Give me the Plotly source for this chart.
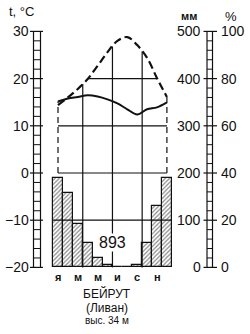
import numpy as np
import plotly.graph_objects as go

# ---- data ----
months = list(range(12))
month_labels = ["я", "", "м", "", "м", "", "и", "", "с", "", "н", ""]
temperature = [14.4, 16.0, 17.8, 19.9, 22.7, 25.6, 28.0, 28.8, 27.1, 24.4, 20.1, 16.1]   # °C
humidity = [70.3, 71.6, 72.2, 72.9, 72.4, 71.2, 69.5, 67.0, 64.8, 67.0, 67.8, 69.9]     # %
precip = [190, 158, 92, 52, 19, 5, 0, 1, 6, 51, 130, 189]                                # mm
temp_ticks = [30, 20, 10, 0, -10, -20]
mm_ticks = [500, 400, 300, 200, 100, 0]
pct_ticks = [100, 80, 60, 40, 20, 0]
annual_total = "893"
city = "БЕЙРУТ"
country = "(Ливан)"
altitude = "выс. 34 м"

# ---- geometry (pixel -> axis ranges) ----
W, H = 250, 334
px_per_month = 9.9
x0_px = 58
xr = [-x0_px / px_per_month, (W - x0_px) / px_per_month]
px_per_deg = 4.72
zero_px = 173
yr = [(zero_px - H) / px_per_deg, zero_px / px_per_deg]
yr_mm = [(v + 20) * 10 for v in yr]
yr_pct = [(v + 20) * 2 for v in yr]

FONT = "Liberation Sans, Arial, sans-serif"
BLACK = "#111111"

fig = go.Figure()

fig.add_trace(go.Bar(
    x=months, y=precip, width=1.0, yaxis="y2",
    marker=dict(color="white", line=dict(color=BLACK, width=1.2),
                pattern=dict(shape="/", fgcolor=BLACK, bgcolor="white", size=3, solidity=0.4)),
    hoverinfo="skip", showlegend=False))

fig.add_trace(go.Scatter(
    x=months, y=temperature, mode="lines", line=dict(color=BLACK, width=2.2, dash="8px,4px", shape="spline"),
    showlegend=False, hoverinfo="skip"))

fig.add_trace(go.Scatter(
    x=months, y=humidity, yaxis="y3", mode="lines", line=dict(color=BLACK, width=2, shape="spline"),
    showlegend=False, hoverinfo="skip"))

shapes = []
def line(x0, y0, x1, y1, xref="x", w=1.2, dash="solid"):
    shapes.append(dict(type="line", xref=xref, yref="y", x0=x0, y0=y0, x1=x1, y1=y1,
                       line=dict(color=BLACK, width=w, dash=dash), layer="above"))

t = np.array(temperature, dtype=float)
m = np.array(months, dtype=float)
# vertical grid lines up to the temperature curve
for xv in [2.5, 5.5, 8.5]:
    line(xv, -20, xv, float(np.interp(xv, m, t)))
# horizontal grid lines
imax = int(np.argmax(t))
xa = float(np.interp(20, t[:imax + 1], m[:imax + 1]))
xb = float(np.interp(20, t[imax:][::-1], m[imax:][::-1]))
line(xa, 20, xb, 20)
line(0, 10, 11, 10)
line(0, 0, 11, 0)
line(-0.5, -10, 11.5, -10)
# dashed side verticals
hum_T = [h / 2 - 20 for h in humidity]
line(0, 0, 0, max(t[0], hum_T[0]), dash="6px,4px")
line(11, 0, 11, max(t[-1], hum_T[-1]), dash="6px,4px")

# rulers
def ruler(xl, xr_, xmaj0, xmaj1):
    p = lambda v: v / W
    line(p(xl), -20, p(xl), 30, xref="paper", w=1.2)
    line(p(xr_), -20, p(xr_), 30, xref="paper", w=1.2)
    for v in range(-20, 31, 2):
        if v % 10 == 0:
            line(p(xmaj0), v, p(xmaj1), v, xref="paper", w=1.2)
        else:
            line(p(xl), v, p(xr_), v, xref="paper", w=1)
ruler(33.5, 40.5, 30, 43)
ruler(207, 212.5, 203.5, 217)

annotations = []
def text(x, y, s, size, xref="x", yref="y", xanchor="center", bg=None, bold=False):
    a = dict(x=x, y=y, xref=xref, yref=yref, text=("<b>%s</b>" % s) if bold else s, showarrow=False,
             xanchor=xanchor, yanchor="middle", font=dict(family=FONT, size=size, color=BLACK))
    if bg:
        a.update(bgcolor=bg, borderpad=0)
    annotations.append(a)

for v in temp_ticks:
    text(31 / W, v, "−%d" % -v if v < 0 else str(v), 14, xref="paper", xanchor="right")
for v in mm_ticks:
    text(203 / W, v, str(v), 14, xref="paper", yref="y2", xanchor="right")
for v in pct_ticks:
    text(219 / W, v, str(v), 14, xref="paper", yref="y3", xanchor="left")

text(7 / W, 1 - 12 / H, "t, °C", 13, xref="paper", yref="paper", xanchor="left")
text(189 / W, 1 - 16 / H, "мм", 11, xref="paper", yref="paper", bold=True)
text(231 / W, 1 - 16 / H, "%", 13, xref="paper", yref="paper")

for i, s in zip(months, month_labels):
    if s:
        text(i, (zero_px - 277) / px_per_deg, s, 11, bold=True)

text(5.5, (zero_px - 242) / px_per_deg, annual_total, 16, bg="white")
text(107 / W, 1 - 293 / H, city, 12, xref="paper", yref="paper")
text(107 / W, 1 - 308 / H, country, 12, xref="paper", yref="paper")
text(107 / W, 1 - 320 / H, altitude, 10, xref="paper", yref="paper")

ax_hidden = dict(showgrid=False, zeroline=False, showticklabels=False, ticks="", showline=False)
fig.update_layout(
    width=W, height=H, margin=dict(l=0, r=0, t=0, b=0),
    paper_bgcolor="white", plot_bgcolor="white",
    xaxis=dict(range=xr, domain=[0, 1], **ax_hidden),
    yaxis=dict(range=yr, domain=[0, 1], **ax_hidden),
    yaxis2=dict(range=yr_mm, overlaying="y", **ax_hidden),
    yaxis3=dict(range=yr_pct, overlaying="y", **ax_hidden),
    shapes=shapes, annotations=annotations, bargap=0,
)

fig.write_html("out.html")
